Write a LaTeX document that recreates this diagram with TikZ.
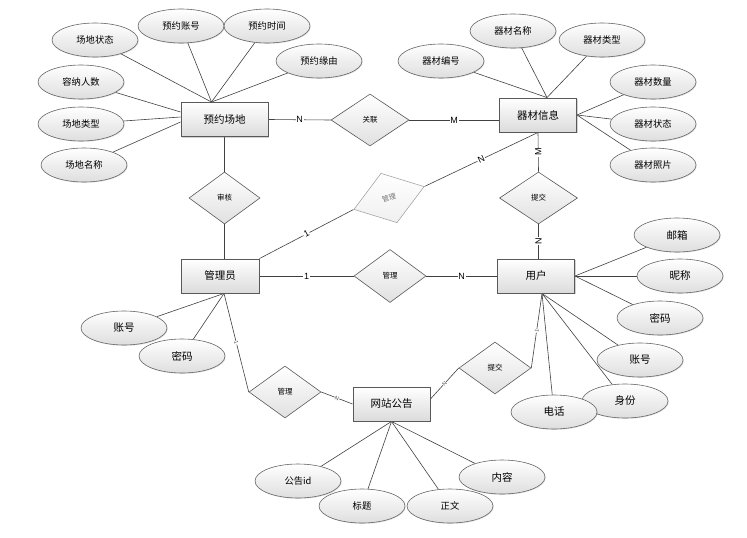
\documentclass[tikz,border=0pt]{standalone}
\usepackage{fontspec}
\setmainfont{Noto Sans CJK SC}
\newfontfamily\latf{Liberation Sans}
\usetikzlibrary{shapes.geometric,shadows,backgrounds,calc}
\begin{document}
\begin{tikzpicture}[x=1pt,y=-1pt,
 ent/.style={rectangle, draw=black!65, line width=0.9pt, minimum width=77pt, minimum height=34pt,
   top color=white, bottom color=black!14,
   drop shadow={shadow xshift=1.2pt, shadow yshift=-1.2pt, opacity=0.35},
   font=\fontsize{10.5}{12}\selectfont},
 attr/.style={ellipse, draw=black!60, line width=0.6pt, minimum width=86pt, minimum height=34pt, inner sep=0pt,
   top color=white, bottom color=black!13,
   drop shadow={shadow xshift=0.8pt, shadow yshift=-0.8pt, opacity=0.25},
   font=\fontsize{9.3}{11}\selectfont},
 attrl/.style={attr, font=\fontsize{10.5}{12}\selectfont},
 rel/.style={diamond, draw=black!65, line width=0.6pt, minimum width=72pt, minimum height=52pt, inner sep=0pt,
   top color=white, bottom color=black!12, font=\fontsize{7.5}{9}\selectfont},
 conn/.style={draw=black!75, line width=0.6pt},
 lbl/.style={fill=white, inner sep=0.8pt, font=\latf\fontsize{9}{10}\selectfont},
 tk/.style={fill=white, inner sep=0.3pt, sloped, text=black!70, font=\latf\fontsize{5.5}{6}\selectfont}
]
\useasboundingbox (0,0) rectangle (747,538);

% entities
\node[ent, minimum width=87pt] (yy) at (224.5,119.5) {预约场地};
\node[ent] (qc) at (538,115) {器材信息};
\node[ent, minimum width=78pt] (gly) at (220,276) {管理员};
\node[ent] (yh) at (536,276) {用户};
\node[ent] (wz) at (391.5,404) {网站公告};

% relationships
\node[rel, minimum width=78pt] (gl) at (370,120) {关联};
\node[rel, minimum width=71pt] (sh) at (224.5,198) {审核};
\node[rel, minimum width=78pt] (tj1) at (538.5,198) {提交};
\node[rel, minimum height=53pt] (gl2) at (390,276) {管理};
\node[rel, minimum width=74pt, rotate=18, draw=black!35, bottom color=black!6, text=black!55, font=\fontsize{7}{8}\selectfont] (gl3) at (389,198) {管理};
\node[rel] (gl4) at (285,392) {管理};
\node[rel] (tj2) at (495,368) {提交};

% attributes of 预约场地
\node[attr] (a1) at (95,40) {场地状态};
\node[attr] (a2) at (181,26) {预约账号};
\node[attr] (a3) at (267,26) {预约时间};
\node[attr] (a4) at (319,61) {预约缘由};
\node[attr] (a5) at (81,82) {容纳人数};
\node[attr] (a6) at (81,124) {场地类型};
\node[attr] (a7) at (84,165) {场地名称};

% attributes of 器材信息
\node[attr] (b1) at (441,61) {器材编号};
\node[attr] (b2) at (513,31) {器材名称};
\node[attr] (b3) at (602,40) {器材类型};
\node[attr] (b4) at (653,82) {器材数量};
\node[attr] (b5) at (653,124) {器材状态};
\node[attr] (b6) at (653,165) {器材照片};

% attributes of 管理员
\node[attrl] (c1) at (124,328) {账号};
\node[attrl] (c2) at (182,356) {密码};

% attributes of 用户
\node[attrl] (d1) at (677,235) {邮箱};
\node[attrl] (d2) at (680,276) {昵称};
\node[attrl] (d3) at (660,318) {密码};
\node[attrl] (d4) at (640,360) {账号};
\node[attrl] (d5) at (625,401) {身份};
\node[attrl] (d6) at (554,412) {电话};

% attributes of 网站公告
\node[attr] (e1) at (298,481) {公告id};
\node[attr] (e2) at (362,506) {标题};
\node[attr] (e3) at (450,506) {正文};
\node[attrl] (e4) at (502,477) {内容};

\coordinate (yyT) at ($(yy.north)+(-13,0)$);
\coordinate (yyL1) at ($(yy.west)+(0,-7.5)$);
\coordinate (yyL2) at ($(yy.west)+(0,-2.5)$);
\coordinate (yyL3) at ($(yy.west)+(0,2.5)$);
\coordinate (qcT) at ($(qc.north)+(9,0)$);
\coordinate (glyB) at ($(gly.south)+(4,0)$);
\coordinate (yhB) at ($(yh.south)+(6,0)$);
\coordinate (wzR) at ($(wz.east)+(0,-5)$);

\begin{scope}[on background layer]
\draw[conn] (a1) -- (yyT);
\draw[conn] (a2) -- (yyT);
\draw[conn] (a3) -- (yyT);
\draw[conn] (a4) -- (yyT);
\draw[conn] (a5) -- (yyL1);
\draw[conn] (a6) -- (yyL2);
\draw[conn] (a7) -- (yyL3);

\draw[conn] (b1) -- (qcT);
\draw[conn] (b2) -- (qcT);
\draw[conn] (b3) -- (qcT);
\draw[conn] (b4) -- (qc.east);
\draw[conn] (b5) -- (qc.east);
\draw[conn] (b6) -- (qc.east);

\draw[conn] (c1) -- (glyB);
\draw[conn] (c2) -- (glyB);

\draw[conn] (d1) -- (yh.east);
\draw[conn] (d2) -- (yh.east);
\draw[conn] (d3) -- (yh.east);
\draw[conn] (d4) -- (yhB);
\draw[conn] (d5) -- (yhB);
\draw[conn] (d6) -- (yhB);

\draw[conn] (e1) -- (wz.south);
\draw[conn] (e2) -- (wz.south);
\draw[conn] (e3) -- (wz.south);
\draw[conn] (e4) -- (wz.south);

\draw[conn] (yy.east) -- node[lbl]{N} (gl.west);
\draw[conn] (gl.east) -- node[lbl]{M} (gl.east -| qc.west);
\draw[conn] (qc.south) -- node[lbl, rotate=90]{M} (tj1.north);
\draw[conn] (tj1.south) -- node[lbl, rotate=90]{N} (tj1.south |- yh.north);
\draw[conn] (yy.south) -- (sh.north);
\draw[conn] (sh.south) -- (sh.south |- gly.north);
\draw[conn] (gly.east) -- node[lbl]{1} (gl2.west);
\draw[conn] (gl2.east) -- node[lbl]{N} (yh.west);
\draw[conn] (gly.north east) -- node[lbl, sloped]{1} (gl3.west);
\draw[conn] (gl3.east) -- node[lbl, sloped]{N} (qc.south);
\draw[conn] (glyB) -- node[tk]{1} (gl4.west);
\draw[conn] (gl4.east) -- node[tk]{N} (wz.west);
\draw[conn] (yhB) -- node[tk]{1} (tj2.east);
\draw[conn] (tj2.west) -- node[tk]{N} (wzR);
\end{scope}
\end{tikzpicture}
\end{document}
